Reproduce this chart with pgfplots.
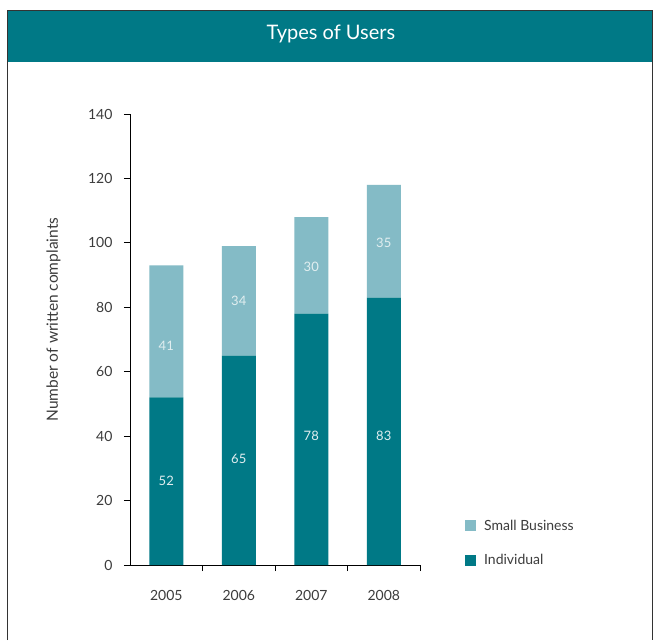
\documentclass[border=0pt]{standalone}
\usepackage{pgfplots}
\pgfplotsset{compat=1.18}
\usepackage{fontspec}
\setmainfont{Lato}
\definecolor{tealA}{RGB}{0,121,134}
\definecolor{tealB}{RGB}{132,187,198}
\definecolor{txt}{RGB}{60,60,60}
\definecolor{lbl}{RGB}{225,238,240}
\pgfplotsset{common/.style={at={(130pt,-565pt)}, anchor=south west,
  scale only axis, width=290pt, height=451pt,
  xmin=-0.5, xmax=3.5, ymin=0, ymax=140}}
\begin{document}
\begin{tikzpicture}
\path[use as bounding box] (0pt,0pt) rectangle (655pt,-640pt);
\fill[white] (0pt,0pt) rectangle (655pt,-640pt);
\fill[tealA] (7pt,-10pt) rectangle (652pt,-62pt);
\draw[line width=1pt, black!80] (7pt,-640pt) -- (7pt,-10pt) -- (652pt,-10pt) -- (652pt,-640pt);
\node[white, font=\fontsize{20}{24}\selectfont] at (331pt,-34pt) {Types of Users};
\begin{axis}[
  common,
  ybar stacked, bar width=34pt,
  axis x line*=bottom, axis y line*=left,
  axis line style={black, line width=0.8pt},
  xtick={0,1,2,3}, xticklabels={2005,2006,2007,2008},
  major x tick style={draw=none},
  minor xtick={0.5,1.5,2.5,3.5},
  minor x tick style={black, line width=0.8pt},
  ytick={0,20,...,140},
  major y tick style={black, line width=0.8pt},
  tick align=outside, major tick length=6pt, minor tick length=6pt,
  ticklabel style={font=\fontsize{14}{16}\selectfont, text=txt},
  /pgf/number format/assume math mode=true,
  yticklabel style={xshift=-8pt},
  xticklabel style={yshift=-16pt},
  ylabel={Number of written complaints},
  ylabel style={at={(axis description cs:-0.264,0.544)}, anchor=center, font=\fontsize{15.5}{18}\selectfont, text=txt},
  legend style={at={(1.155,-0.008)}, anchor=south west, draw=none, fill=none, inner sep=0pt, row sep=19pt, font=\fontsize{14}{16}\selectfont, text=txt},
  legend cell align=left,
  reverse legend,
  legend image code/.code={\fill[#1] (0pt,-5.5pt) rectangle (11pt,5.5pt); \path (17pt,0pt);},
  clip=false,
]
\addplot[fill=tealA, draw=none] coordinates {(0,52) (1,65) (2,78) (3,83)};
\addplot[fill=tealB, draw=none] coordinates {(0,41) (1,34) (2,30) (3,35)};
\legend{Individual, Small Business}
\end{axis}
\begin{axis}[common, hide axis, clip=false]
\addplot[draw=none, mark=none, nodes near coords, point meta=explicit symbolic,
  every node near coord/.append style={anchor=center, text=lbl, font=\fontsize{13}{15}\selectfont}]
  coordinates {(0,26)[52] (1,33)[65] (2,40)[78] (3,40)[83]
               (0,68)[41] (1,82)[34] (2,92.5)[30] (3,100)[35]};
\end{axis}
\end{tikzpicture}
\end{document}
